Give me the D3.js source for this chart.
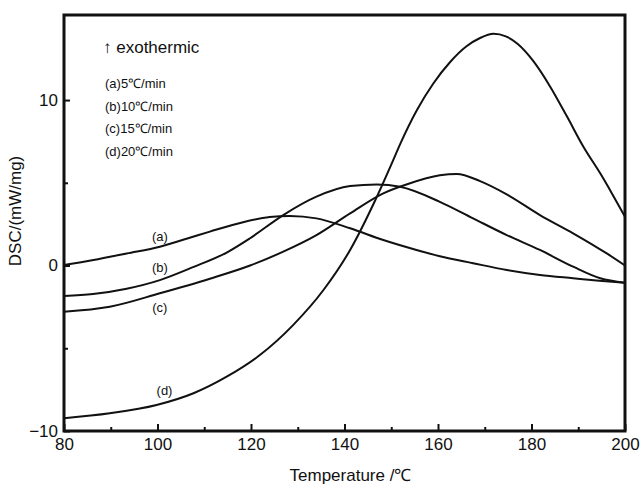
<!DOCTYPE html>
<html>
<head>
<meta charset="utf-8">
<script src="https://cdn.jsdelivr.net/npm/d3@7"></script>
<style>
  body { margin: 0; background: #fff; }
  svg { display: block; font-family: Arial, "Liberation Sans", Helvetica, sans-serif; }
</style>
</head>
<body>
<div id="chart"></div>
<script>
// DSC curves at four heating rates

const tA = [80, 86.3, 93.4, 100.5, 106.2, 111.2, 118.3, 124, 128.3, 134, 141.2, 148.3, 155.4, 160.4, 167.5, 174.7, 181.8, 188.9, 194.5, 200];
const dscA = [0.03, 0.33, 0.73, 1.14, 1.62, 2.05, 2.62, 2.93, 3.0, 2.85, 2.25, 1.54, 0.94, 0.56, 0.14, -0.27, -0.57, -0.77, -0.92, -1.04];

const tB = [80, 86.2, 93.4, 100.5, 107.6, 114.9, 119.8, 126.9, 134, 141.2, 146.9, 151.9, 160.4, 167.5, 174.7, 181.8, 188.9, 194.7, 200];
const dscB = [-1.84, -1.72, -1.4, -0.88, -0.1, 0.8, 1.65, 3.05, 4.16, 4.8, 4.9, 4.76, 3.85, 2.85, 1.84, 0.94, -0.07, -0.77, -1.04];

const tC = [80, 89.8, 100.5, 111.2, 119.8, 126.9, 134, 141.2, 148.3, 153.3, 160.4, 164, 169, 174.7, 181.8, 188.9, 196.1, 200];
const dscC = [-2.79, -2.49, -1.68, -0.8, 0.0, 0.84, 1.84, 3.15, 4.36, 4.9, 5.45, 5.53, 5.1, 4.3, 3.05, 1.95, 0.73, 0.0];

const tD = [80, 89.8, 99.8, 107.7, 114.8, 121.9, 129, 135.5, 141.2, 146.5, 150, 152, 155.5, 159, 162.6, 166.1, 169, 171.9, 174.5, 177, 180.4, 184, 187.6, 191.1, 194.7, 197.2, 200];
const dscD = [-9.23, -8.93, -8.43, -7.72, -6.72, -5.41, -3.6, -1.48, 0.94, 3.9, 6.1, 7.4, 9.4, 11.0, 12.3, 13.25, 13.75, 14.0, 13.85, 13.4, 12.35, 10.81, 9.0, 7.18, 5.57, 4.36, 2.95];

const seriesNames = ["(a)", "(b)", "(c)", "(d)"];
const legendLines = ["(a)5\u2103/min", "(b)10\u2103/min", "(c)15\u2103/min", "(d)20\u2103/min"];

const xMajor = [80, 100, 120, 140, 160, 180, 200];
const xMinor = [90, 110, 130, 150, 170, 190];
const yMajor = [-10, 0, 10];
const yMinor = [-5, 5];

// where each curve's tag sits: temperature, value
const labelAt = [[100.5, 1.7], [100.5, -0.2], [100.5, -2.6], [101.5, -7.6]];

const W = 641, H = 485;
const m = { left: 64, right: 16, top: 15, bottom: 54 };

const svg = d3.select("#chart").append("svg")
  .attr("width", W).attr("height", H);

const x = d3.scaleLinear().domain([80, 200]).range([m.left, W - m.right]);
const y = d3.scaleLinear().domain([-10, 15.14]).range([H - m.bottom, m.top]);

const line = d3.line()
  .x(d => x(d[0])).y(d => y(d[1]))
  .curve(d3.curveMonotoneX);

const series = [
  d3.zip(tA, dscA), d3.zip(tB, dscB), d3.zip(tC, dscC), d3.zip(tD, dscD)
];

svg.append("g").selectAll("path")
  .data(series)
  .join("path")
    .attr("d", line)
    .attr("fill", "none")
    .attr("stroke", "#111")
    .attr("stroke-width", 2);

// axes: ticks point into the plot
const bottom = H - m.bottom;
const gx = svg.append("g").attr("transform", `translate(0,${bottom})`)
  .call(d3.axisBottom(x).tickValues(xMajor).tickSize(-7).tickPadding(7).tickFormat(d3.format("d")));
svg.append("g").attr("transform", `translate(0,${bottom})`)
  .call(d3.axisBottom(x).tickValues(xMinor).tickSize(-4).tickFormat(""));
const gy = svg.append("g").attr("transform", `translate(${m.left},0)`)
  .call(d3.axisLeft(y).tickValues(yMajor).tickSize(-6).tickPadding(6).tickFormat(d3.format("d")));
svg.append("g").attr("transform", `translate(${m.left},0)`)
  .call(d3.axisLeft(y).tickValues(yMinor).tickSize(-4).tickFormat(""));

svg.selectAll(".domain").remove();
svg.selectAll(".tick line").attr("stroke", "#111").attr("stroke-width", 2);
gx.selectAll("text").style("font-size", "17px").attr("fill", "#111");
gy.selectAll("text").style("font-size", "17px").attr("fill", "#111");

// frame
svg.append("rect")
  .attr("x", m.left).attr("y", m.top)
  .attr("width", W - m.right - m.left).attr("height", bottom - m.top)
  .attr("fill", "none").attr("stroke", "#111").attr("stroke-width", 3);

// axis titles
svg.append("text")
  .attr("x", (m.left + W - m.right) / 2 + 6).attr("y", 481)
  .attr("text-anchor", "middle").style("font-size", "17px").attr("fill", "#111")
  .text("Temperature /\u2103");
svg.append("text")
  .attr("transform", `translate(21,${(m.top + bottom) / 2 - 12}) rotate(-90)`)
  .attr("text-anchor", "middle").style("font-size", "17px").attr("fill", "#111")
  .text("DSC/(mW/mg)");

// annotation + rate list
svg.append("text")
  .attr("x", 103).attr("y", 53).style("font-size", "17px").attr("fill", "#111")
  .text("\u2191 exothermic");
svg.append("g").selectAll("text")
  .data(legendLines)
  .join("text")
    .attr("x", 105).attr("y", (d, i) => 88 + i * 22.7)
    .style("font-size", "13px").attr("fill", "#111")
    .text(d => d);

// curve tags
svg.append("g").selectAll("text")
  .data(seriesNames)
  .join("text")
    .attr("x", (d, i) => x(labelAt[i][0]))
    .attr("y", (d, i) => y(labelAt[i][1]))
    .attr("text-anchor", "middle").attr("dominant-baseline", "middle")
    .style("font-size", "13px").attr("fill", "#111")
    .text(d => d);
</script>
</body>
</html>
